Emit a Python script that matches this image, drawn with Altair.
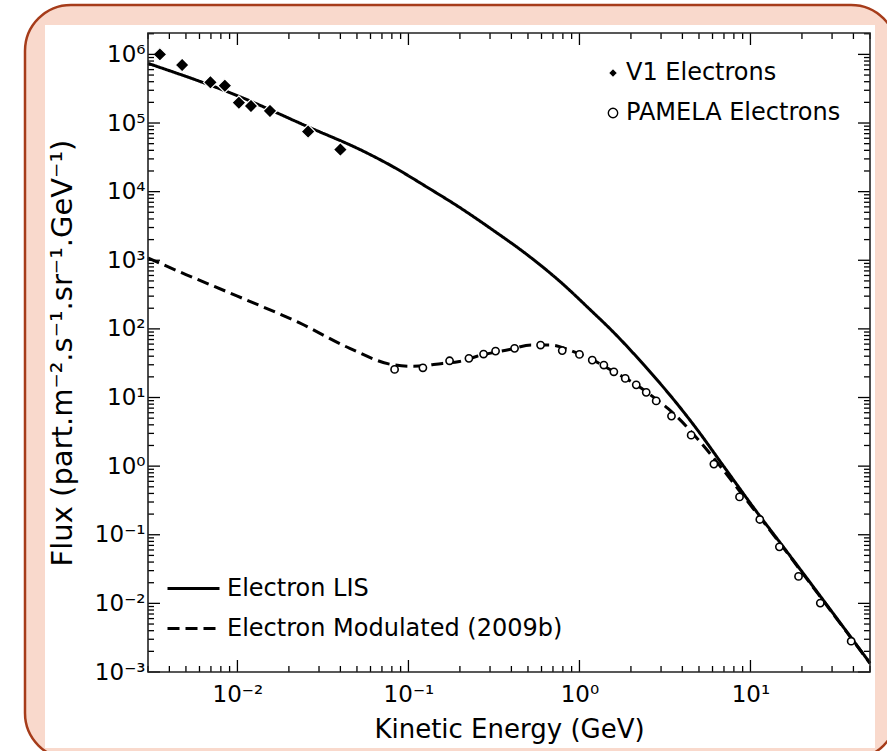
import altair as alt
import pandas as pd

# ---------------- data ----------------
v1_energy = [3.52e-3, 4.75e-3, 6.95e-3, 8.44e-3, 1.02e-2, 1.20e-2, 1.55e-2, 2.59e-2, 4.0e-2]
v1_flux = [1.0e6, 7.0e5, 3.92e5, 3.5e5, 1.98e5, 1.77e5, 1.5e5, 7.5e4, 4.1e4]

pamela_energy = [0.083, 0.1215, 0.174, 0.2258, 0.275, 0.3233, 0.4175, 0.5925, 0.793, 1.00,
                 1.188, 1.389, 1.589, 1.853, 2.148, 2.457, 2.81, 3.453, 4.50, 6.11,
                 8.63, 11.34, 14.76, 19.1, 25.6, 38.8]
pamela_flux = [25.7, 27.1, 34.3, 37.2, 43.0, 47.5, 52.0, 58.1, 48.3, 42.5,
               35.1, 29.7, 23.7, 19.0, 15.3, 11.9, 8.93, 5.36, 2.83, 1.07,
               0.356, 0.167, 0.0667, 0.0247, 0.0101, 0.00281]

lis_energy = [3.0e-3, 1.0e-2, 0.0259, 0.0555, 0.0812, 0.1272, 0.199, 0.312, 0.489, 0.766,
              1.197, 1.5, 2.4, 3.85, 4.82, 7.0, 11.3, 14.8, 25, 50]
lis_flux = [7.4e5, 2.5e5, 8.8e4, 3.8e4, 2.31e4, 1.18e4, 5.9e3, 2.75e3, 1.23e3, 495,
            175, 102, 29.2, 7.3, 3.55, 0.98, 0.19, 0.0785, 0.0138, 1.35e-3]

mod_energy = [3.0e-3, 5.0e-3, 1.0e-2, 0.0231, 0.0454, 0.0812, 0.107, 0.158, 0.199, 0.252,
              0.39, 0.523, 0.684, 0.875, 1.0, 1.2, 1.6, 2.15, 2.8, 3.3,
              5.05, 6.88, 10, 15, 25, 50]
mod_flux = [1080, 620, 300, 122, 52, 30, 28.5, 31.4, 33.5, 40,
            50, 58, 58, 49, 43, 35, 23.5, 15.3, 9.5, 6.9,
            2.3, 0.9, 0.27, 0.073, 0.0135, 1.34e-3]

series_names = ["Electron LIS", "Electron Modulated (2009b)"]
dataset_names = ["V1 Electrons", "PAMELA Electrons"]

x_major = [0.01, 0.1, 1, 10]
x_labels = ["10⁻²", "10⁻¹", "10⁰", "10¹"]
y_major = [1e-3, 1e-2, 1e-1, 1, 10, 100, 1e3, 1e4, 1e5, 1e6]
y_labels = ["10⁻³", "10⁻²", "10⁻¹", "10⁰", "10¹", "10²", "10³", "10⁴", "10⁵", "10⁶"]
mantissas = [2, 3, 4, 5, 6, 7, 8, 9]

x_domain = [3.0e-3, 50]
y_domain = [1e-3, 2.05e6]

# ---------------- tables ----------------
lines_df = pd.concat([
    pd.DataFrame({"E": lis_energy, "F": lis_flux, "series": series_names[0]}),
    pd.DataFrame({"E": mod_energy, "F": mod_flux, "series": series_names[1]}),
])
v1_df = pd.DataFrame({"E": v1_energy, "F": v1_flux, "dataset": dataset_names[0]})
pam_df = pd.DataFrame({"E": pamela_energy, "F": pamela_flux, "dataset": dataset_names[1]})

x_minor = [m * 10.0 ** d for d in range(-3, 2) for m in mantissas]
x_minor = [v for v in x_minor if x_domain[0] * 0.999 <= v <= x_domain[1]]
y_minor = [m * 10.0 ** d for d in range(-3, 7) for m in mantissas]
y_minor = [v for v in y_minor if y_domain[0] <= v <= y_domain[1]]
xt_major = pd.DataFrame({"v": x_major})
xt_minor = pd.DataFrame({"v": x_minor})
yt_major = pd.DataFrame({"v": y_major})
yt_minor = pd.DataFrame({"v": y_minor})

W, H = 722, 639
PL, PT, PR, PB = 148, 33, 17, 79
FONT = "DejaVu Sans"

xscale = alt.Scale(type="log", domain=x_domain, nice=False)
yscale = alt.Scale(type="log", domain=y_domain, nice=False)


def label_expr(labels, first_exp):
    arr = "[" + ",".join("'" + s + "'" for s in labels) + "]"
    return arr + "[round(log(datum.value)/LN10)-(" + str(first_exp) + ")]"


xaxis = alt.Axis(values=x_major, labelExpr=label_expr(x_labels, -2), ticks=False, domain=False,
                 grid=False, labelFont=FONT, labelFontSize=23, labelColor="black",
                 labelPadding=11, labelFlush=False, labelOverlap=False,
                 title="Kinetic Energy (GeV)", titleFont=FONT, titleFontSize=26,
                 titleFontWeight="normal", titleColor="black", titleX=W / 2, titleY=65,
                 titleBaseline="alphabetic", titleAlign="center", zindex=1)
yaxis = alt.Axis(values=y_major, labelExpr=label_expr(y_labels, -3), ticks=False, domain=False,
                 grid=False, labelFont=FONT, labelFontSize=23, labelColor="black",
                 labelPadding=3, labelFlush=False, labelOverlap=False,
                 title="Flux (part.m⁻².s⁻¹.sr⁻¹.GeV⁻¹)", titleFont=FONT, titleFontSize=29,
                 titleFontWeight="normal", titleColor="black", titleAngle=270,
                 titleX=-86, titleY=H / 2, titleAlign="center", titleBaseline="middle",
                 zindex=1)


def X(field="E"):
    return alt.X(field, type="quantitative", scale=xscale, axis=xaxis)


def Y(field="F"):
    return alt.Y(field, type="quantitative", scale=yscale, axis=yaxis)


one = pd.DataFrame({"a": [0]})

# decorative frame (pink rounded panel with white picture area)
panel = alt.Chart(one).mark_rect(fill="#f9d9cc", stroke="#a63c1a", strokeWidth=2.5,
                                 cornerRadius=46).encode(
    x=alt.value(25 - PL), x2=alt.value(897 - PL), y=alt.value(5 - PT), y2=alt.value(759 - PT))
white = alt.Chart(one).mark_rect(fill="white").encode(
    x=alt.value(45 - PL), x2=alt.value(875 - PL), y=alt.value(25 - PT), y2=alt.value(748 - PT))

line_legend = alt.Legend(title=None, orient="none", legendX=18, legendY=528,
                         symbolType="stroke", symbolSize=2704, symbolStrokeWidth=3,
                         symbolStrokeColor="black", labelFont=FONT, labelFontSize=24,
                         labelColor="black", labelOffset=6, rowPadding=-10, padding=0,
                         labelLimit=0)
lines = alt.Chart(lines_df).mark_line(color="black", strokeWidth=3, interpolate="monotone",
                                      strokeCap="butt").encode(
    x=X(), y=Y(),
    strokeDash=alt.StrokeDash("series:N", scale=alt.Scale(domain=series_names,
                                                            range=[[1, 0], [12, 6]]),
                              legend=line_legend))

pt_legend = alt.Legend(title=None, orient="none", legendX=453, legendY=28,
                       symbolSize=88, symbolStrokeWidth=1.4, symbolOpacity=1,
                       labelFont=FONT, labelFontSize=24, labelColor="black",
                       labelOffset=1, rowPadding=16, padding=0, labelLimit=0)
shape_enc = alt.Shape("dataset:N", scale=alt.Scale(domain=dataset_names, range=["diamond", "circle"]),
                      legend=pt_legend)
fill_enc = alt.Fill("dataset:N", scale=alt.Scale(domain=dataset_names, range=["black", "white"]),
                    legend=pt_legend)
stroke_enc = alt.Stroke("dataset:N", scale=alt.Scale(domain=dataset_names, range=["white", "black"]),
                        legend=pt_legend)

pam_pts = alt.Chart(pam_df).mark_point(filled=True, size=52, strokeWidth=1.6, opacity=1).encode(
    x=X(), y=Y(), shape=shape_enc, fill=fill_enc, stroke=stroke_enc)
v1_pts = alt.Chart(v1_df).mark_point(filled=True, size=190, strokeWidth=1.2, opacity=1).encode(
    x=X(), y=Y(), shape=shape_enc, fill=fill_enc, stroke=stroke_enc)

MAJ, MIN = 12, 6
tick_style = dict(color="black", strokeWidth=1.3)
ticks = [
    alt.Chart(xt_major).mark_rule(**tick_style).encode(x=X("v"), y=alt.value(H), y2=alt.value(H - MAJ)),
    alt.Chart(xt_minor).mark_rule(**tick_style).encode(x=X("v"), y=alt.value(H), y2=alt.value(H - MIN)),
    alt.Chart(xt_major).mark_rule(**tick_style).encode(x=X("v"), y=alt.value(0), y2=alt.value(MAJ)),
    alt.Chart(xt_minor).mark_rule(**tick_style).encode(x=X("v"), y=alt.value(0), y2=alt.value(MIN)),
    alt.Chart(yt_major).mark_rule(**tick_style).encode(y=Y("v"), x=alt.value(0), x2=alt.value(MAJ)),
    alt.Chart(yt_minor).mark_rule(**tick_style).encode(y=Y("v"), x=alt.value(0), x2=alt.value(MIN)),
    alt.Chart(yt_major).mark_rule(**tick_style).encode(y=Y("v"), x=alt.value(W), x2=alt.value(W - MAJ)),
    alt.Chart(yt_minor).mark_rule(**tick_style).encode(y=Y("v"), x=alt.value(W), x2=alt.value(W - MIN)),
]

frame = alt.Chart(one).mark_rect(fill="transparent", stroke="#222222", strokeWidth=1.6).encode(
    x=alt.value(0), x2=alt.value(W), y=alt.value(0), y2=alt.value(H))

chart = alt.layer(panel, white, lines, pam_pts, v1_pts, *ticks, frame).properties(
    width=W, height=H, autosize="none",
    padding={"left": PL, "top": PT, "right": PR, "bottom": PB},
    background="white",
).configure_view(stroke=None)

chart.save("out.html", embed_options={"renderer": "svg", "actions": False})
